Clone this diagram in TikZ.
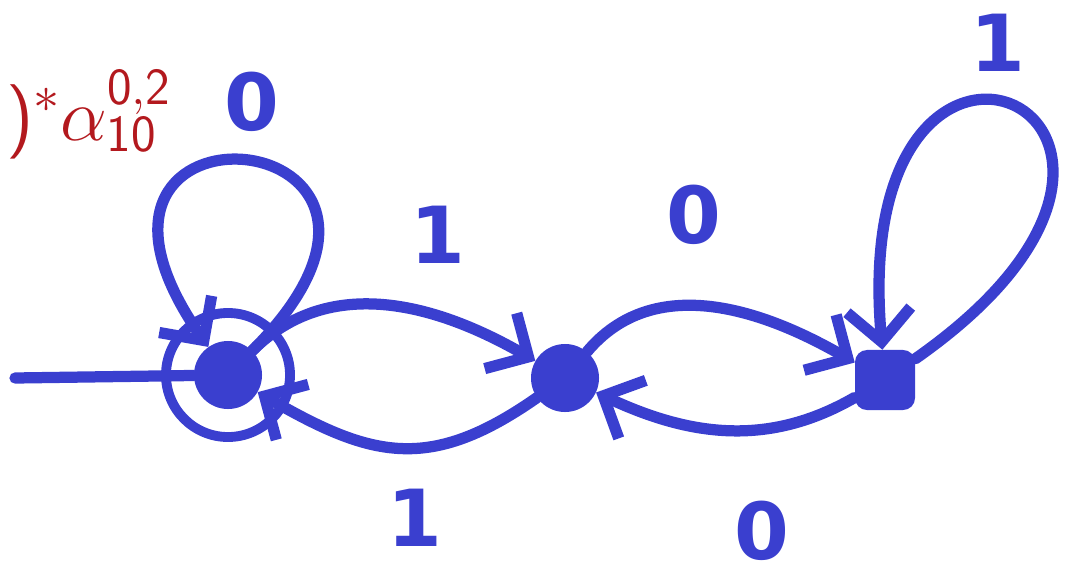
\RequirePackage{fix-cm}
\documentclass[tikz,border=0pt]{standalone}
\usepackage{fontspec}
\newfontfamily\handfont{DejaVu Sans}
\usetikzlibrary{arrows.meta,positioning}
\definecolor{ink}{HTML}{3A3FCF}
\definecolor{chalkred}{HTML}{B3191E}
\tikzset{
  >={Straight Barb[length=8mm,width=16mm]},
  trans/.style={->,line width=8pt,draw=ink,line cap=round},
  plain/.style={line width=8pt,draw=ink,line cap=round},
  statenode/.style={circle,fill=ink,minimum size=17mm,inner sep=0pt},
  squarestate/.style={rectangle,rounded corners=3mm,fill=ink,minimum size=15mm,inner sep=0pt},
  ring/.style={circle,draw=ink,line width=7pt,minimum size=31mm,inner sep=0pt},
  lbl/.style={text=ink,inner sep=0pt,font=\handfont\bfseries\fontsize{56}{56}\selectfont}
}

\begin{document}
\begin{tikzpicture}[x=0.025cm,y=0.025cm]
  \useasboundingbox (0,0) rectangle (1089,581);
  % states
  \node[statenode] (q0) at (228,206) {};
  \node[ring] (acc) at (q0) {};
  \node[statenode] (q1) at (565,203) {};
  \node[squarestate] (q2) at (885,201) {};
  \coordinate (start) at (15,203);
  % red expression
  \node[text=chalkred,anchor=base west,inner sep=0pt,font=\fontsize{53}{58}\selectfont] (expr) at (6,441)
    {{\sffamily)}$^{*}\alpha^{\mathsf{0,2}}_{\mathsf{10}}$};
  % transitions
  \draw[plain] (start) -- (q0);
  \draw[trans] (q0) to[out=45,in=125,distance=8.2cm] (q0);
  \draw[trans] (q0) to[out=45,in=150] (q1);
  \draw[trans] (q1) to[out=215,in=-30,looseness=1.2] (q0);
  \draw[trans] (q1) to[out=50,in=150] (q2);
  \draw[trans] (q2) to[out=210,in=-25] (q1);
  \draw[trans] (q2) to[out=35,in=95,distance=10.5cm] (q2);
  % labels
  \node[lbl] (l0) at (252,479) {0};
  \node[lbl] (l1) at (438,346) {1};
  \node[lbl] (l2) at (694,366) {0};
  \node[lbl] (l3) at (415,63) {1};
  \node[lbl] (l4) at (762,50) {0};
  \node[lbl] (l5) at (998,538) {1};
\end{tikzpicture}
\end{document}
